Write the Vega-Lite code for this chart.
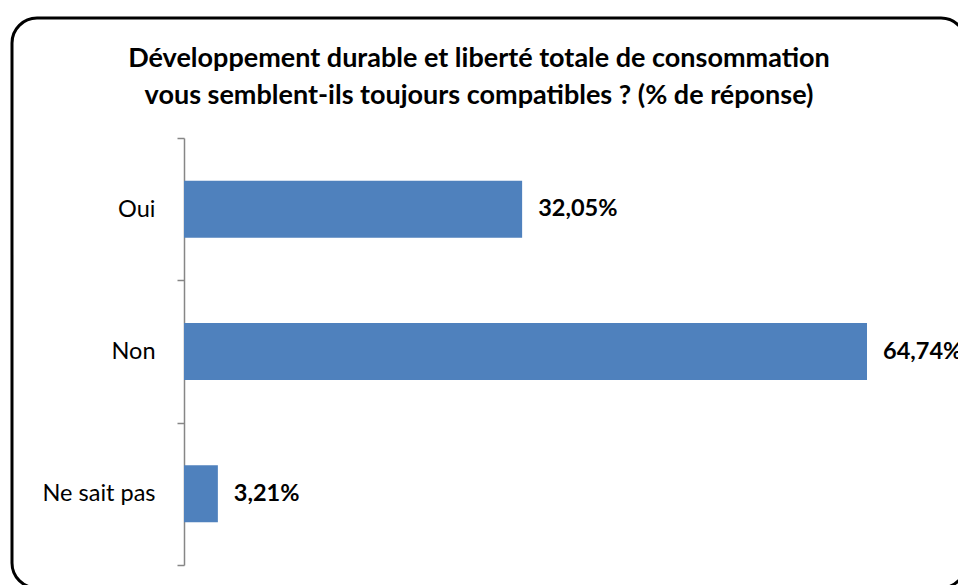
{
  "$schema": "https://vega.github.io/schema/vega-lite/v6.json",
  "autosize": {"type": "none"},
  "padding": {"left": 12, "top": 18, "right": 0, "bottom": 0},
  "width": 954,
  "height": 570,
  "background": "white",
  "config": {
    "locale": {"number": {"decimal": ",", "thousands": " ", "grouping": [3], "currency": ["", " €"]}},
    "view": {"stroke": "black", "strokeWidth": 3, "cornerRadius": 25}
  },
  "title": {
    "text": ["Développement durable et liberté totale de consommation", "vous semblent-ils toujours compatibles ? (% de réponse)"],
    "font": "Lato",
    "fontSize": 27,
    "fontWeight": "bold",
    "color": "black",
    "anchor": "middle",
    "frame": "group",
    "offset": -104,
    "lineHeight": 37,
    "dx": -10
  },
  "data": {
    "values": [
      {"reponse": "Oui", "part": 0.3205},
      {"reponse": "Non", "part": 0.6474},
      {"reponse": "Ne sait pas", "part": 0.0321}
    ]
  },
  "encoding": {
    "y": {
      "field": "reponse",
      "type": "nominal",
      "sort": null,
      "scale": {"range": [120, 547], "paddingInner": 0, "paddingOuter": 0},
      "axis": {
        "title": null,
        "offset": -172,
        "tickBand": "extent",
        "tickSize": 7,
        "tickColor": "#868686",
        "tickWidth": 1.5,
        "domainColor": "#868686",
        "domainWidth": 1.5,
        "labelFont": "Lato",
        "labelFontSize": 23.5,
        "labelColor": "black",
        "labelPadding": 22,
        "grid": false
      }
    },
    "x": {
      "field": "part",
      "type": "quantitative",
      "scale": {"domain": [0, 0.7], "range": [172, 910.5]},
      "axis": null
    }
  },
  "layer": [
    {
      "mark": {"type": "bar", "color": "#4F81BD", "height": {"band": 0.4}}
    },
    {
      "mark": {"type": "text", "align": "left", "baseline": "middle", "dx": 16, "font": "Lato", "fontSize": 23.5, "fontWeight": "bold", "color": "black"},
      "encoding": {"text": {"field": "part", "type": "quantitative", "format": ".2%"}}
    }
  ]
}
